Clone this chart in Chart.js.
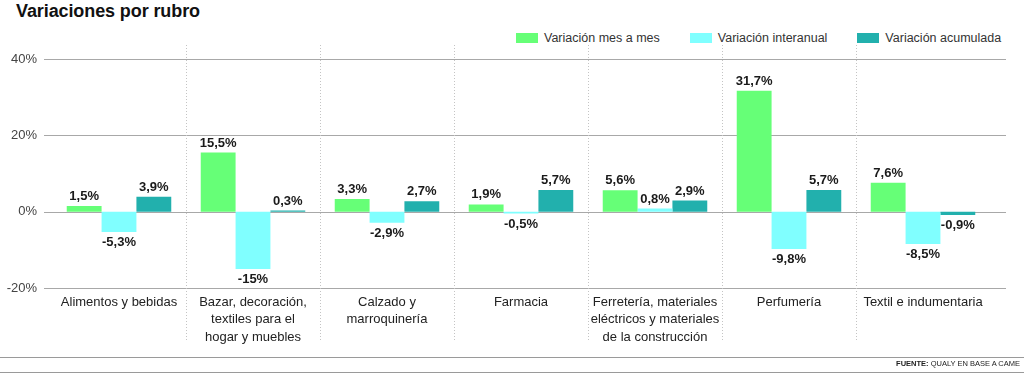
<!DOCTYPE html>
<html lang="es">
<head>
<meta charset="UTF-8">
<title>Variaciones por rubro</title>
<script src="https://cdn.jsdelivr.net/npm/chart.js"></script>
<style>
    body {
        margin: 0;
        width: 1024px;
        height: 373px;
        overflow: hidden;
        background: #fff;
        font-family: "Liberation Sans", Arial, sans-serif;
        position: relative;
    }
    #title {
        position: absolute;
        left: 16px;
        top: 1px;
        font-size: 18px;
        font-weight: bold;
        color: #111;
        letter-spacing: -0.1px;
    }
    #legend {
        position: absolute;
        top: 31px;
        left: 516px;
        display: flex;
        white-space: nowrap;
        font-size: 12.5px;
        color: #333;
    }
    .item { display: flex; align-items: center; margin-right: 30px; }
    .box { width: 22px; height: 10px; margin-right: 6px; }
    #chartWrap { position: absolute; left: 0; top: 0; width: 1024px; height: 373px; }
    .rule { position: absolute; left: 0; width: 1024px; height: 1px; background: #9a9a9a; }
    #source {
        position: absolute;
        right: 4px;
        top: 359px;
        font-size: 7.5px;
        white-space: nowrap;
        color: #222;
    }
</style>
</head>
<body>
<div id="title">Variaciones por rubro</div>
<div id="legend"></div>
<div id="chartWrap"><canvas id="chart"></canvas></div>
<div class="rule" style="top:357px"></div>
<div class="rule" style="top:372px"></div>
<div id="source"><b>FUENTE:</b> QUALY EN BASE A CAME</div>

<script>
    const categories = [
        ['Alimentos y bebidas'],
        ['Bazar, decoración,', 'textiles para el', 'hogar y muebles'],
        ['Calzado y', 'marroquinería'],
        ['Farmacia'],
        ['Ferretería, materiales', 'eléctricos y materiales', 'de la construcción'],
        ['Perfumería'],
        ['Textil e indumentaria']
    ];
    const mesAMes = [1.5, 15.5, 3.3, 1.9, 5.6, 31.7, 7.6];
    const interanual = [-5.3, -15, -2.9, -0.5, 0.8, -9.8, -8.5];
    const acumulada = [3.9, 0.3, 2.7, 5.7, 2.9, 5.7, -0.9];
    const yTicks = [-20, 0, 20, 40];

    const seriesNames = ['Variación mes a mes', 'Variación interanual', 'Variación acumulada'];
    const seriesColors = ['#66ff77', '#80ffff', '#22b0ad'];

    // html legend
    const legend = document.getElementById('legend');
    seriesNames.forEach((name, i) => {
        const item = document.createElement('div');
        item.className = 'item';
        item.innerHTML = '<span class="box" style="background:' + seriesColors[i] + '"></span>' + name;
        legend.appendChild(item);
    });

    function fmt(v) {
        const s = Number.isInteger(v) ? String(v) : v.toFixed(1).replace('.', ',');
        return s + '%';
    }

    const gridPlugin = {
        id: 'grid',
        beforeDatasetsDraw(chart) {
            const ctx = chart.ctx;
            const y = chart.scales.y;
            const x = chart.scales.x;
            ctx.save();
            ctx.strokeStyle = '#a8a8a8';
            ctx.lineWidth = 1.2;
            yTicks.forEach(t => {
                const py = Math.round(y.getPixelForValue(t)) + 0.5;
                ctx.beginPath();
                ctx.moveTo(44, py);
                ctx.lineTo(1006, py);
                ctx.stroke();
            });
            ctx.strokeStyle = '#c4c4c4';
            ctx.lineWidth = 1;
            ctx.setLineDash([1, 2]);
            const half = (x.getPixelForValue(1) - x.getPixelForValue(0)) / 2;
            for (let i = 0; i < categories.length - 1; i++) {
                const px = Math.round(x.getPixelForValue(i) + half) + 0.5;
                ctx.beginPath();
                ctx.moveTo(px, 45);
                ctx.lineTo(px, 342);
                ctx.stroke();
            }
            ctx.restore();
        }
    };

    const labelPlugin = {
        id: 'barLabels',
        afterDatasetsDraw(chart) {
            const ctx = chart.ctx;
            ctx.save();
            ctx.font = 'bold 13px "Liberation Sans", Arial, sans-serif';
            ctx.fillStyle = '#1a1a1a';
            ctx.textAlign = 'center';
            chart.data.datasets.forEach((ds, di) => {
                const meta = chart.getDatasetMeta(di);
                meta.data.forEach((bar, i) => {
                    const v = ds.data[i];
                    if (v >= 0) {
                        ctx.textBaseline = 'bottom';
                        ctx.fillText(fmt(v), bar.x, bar.y - 3);
                    } else {
                        ctx.textBaseline = 'top';
                        ctx.fillText(fmt(v), bar.x, bar.y + 4);
                    }
                });
            });
            ctx.restore();
        }
    };

    new Chart(document.getElementById('chart'), {
        type: 'bar',
        data: {
            labels: categories,
            datasets: [
                { label: seriesNames[0], data: mesAMes, backgroundColor: seriesColors[0] },
                { label: seriesNames[1], data: interanual, backgroundColor: seriesColors[1] },
                { label: seriesNames[2], data: acumulada, backgroundColor: seriesColors[2] }
            ]
        },
        options: {
            responsive: true,
            maintainAspectRatio: false,
            animation: false,
            layout: { padding: { top: 59, right: 34, left: 0, bottom: 0 } },
            plugins: { legend: { display: false }, tooltip: { enabled: false } },
            datasets: { bar: { categoryPercentage: 0.78, barPercentage: 1.0 } },
            scales: {
                x: {
                    grid: { display: false },
                    border: { display: false },
                    ticks: {
                        color: '#222',
                        font: { family: '"Liberation Sans", Arial, sans-serif', size: 13, lineHeight: 1.38 },
                        padding: -3,
                        maxRotation: 0,
                        autoSkip: false
                    },
                    afterFit(scale) { scale.height = 85; }
                },
                y: {
                    min: -20,
                    max: 40,
                    grid: { display: false },
                    border: { display: false },
                    ticks: {
                        stepSize: 20,
                        color: '#444',
                        padding: 7,
                        font: { family: '"Liberation Sans", Arial, sans-serif', size: 13 },
                        callback: v => v + '%'
                    },
                    afterFit(scale) { scale.width = 52; }
                }
            }
        },
        plugins: [gridPlugin, labelPlugin]
    });
</script>
</body>
</html>
